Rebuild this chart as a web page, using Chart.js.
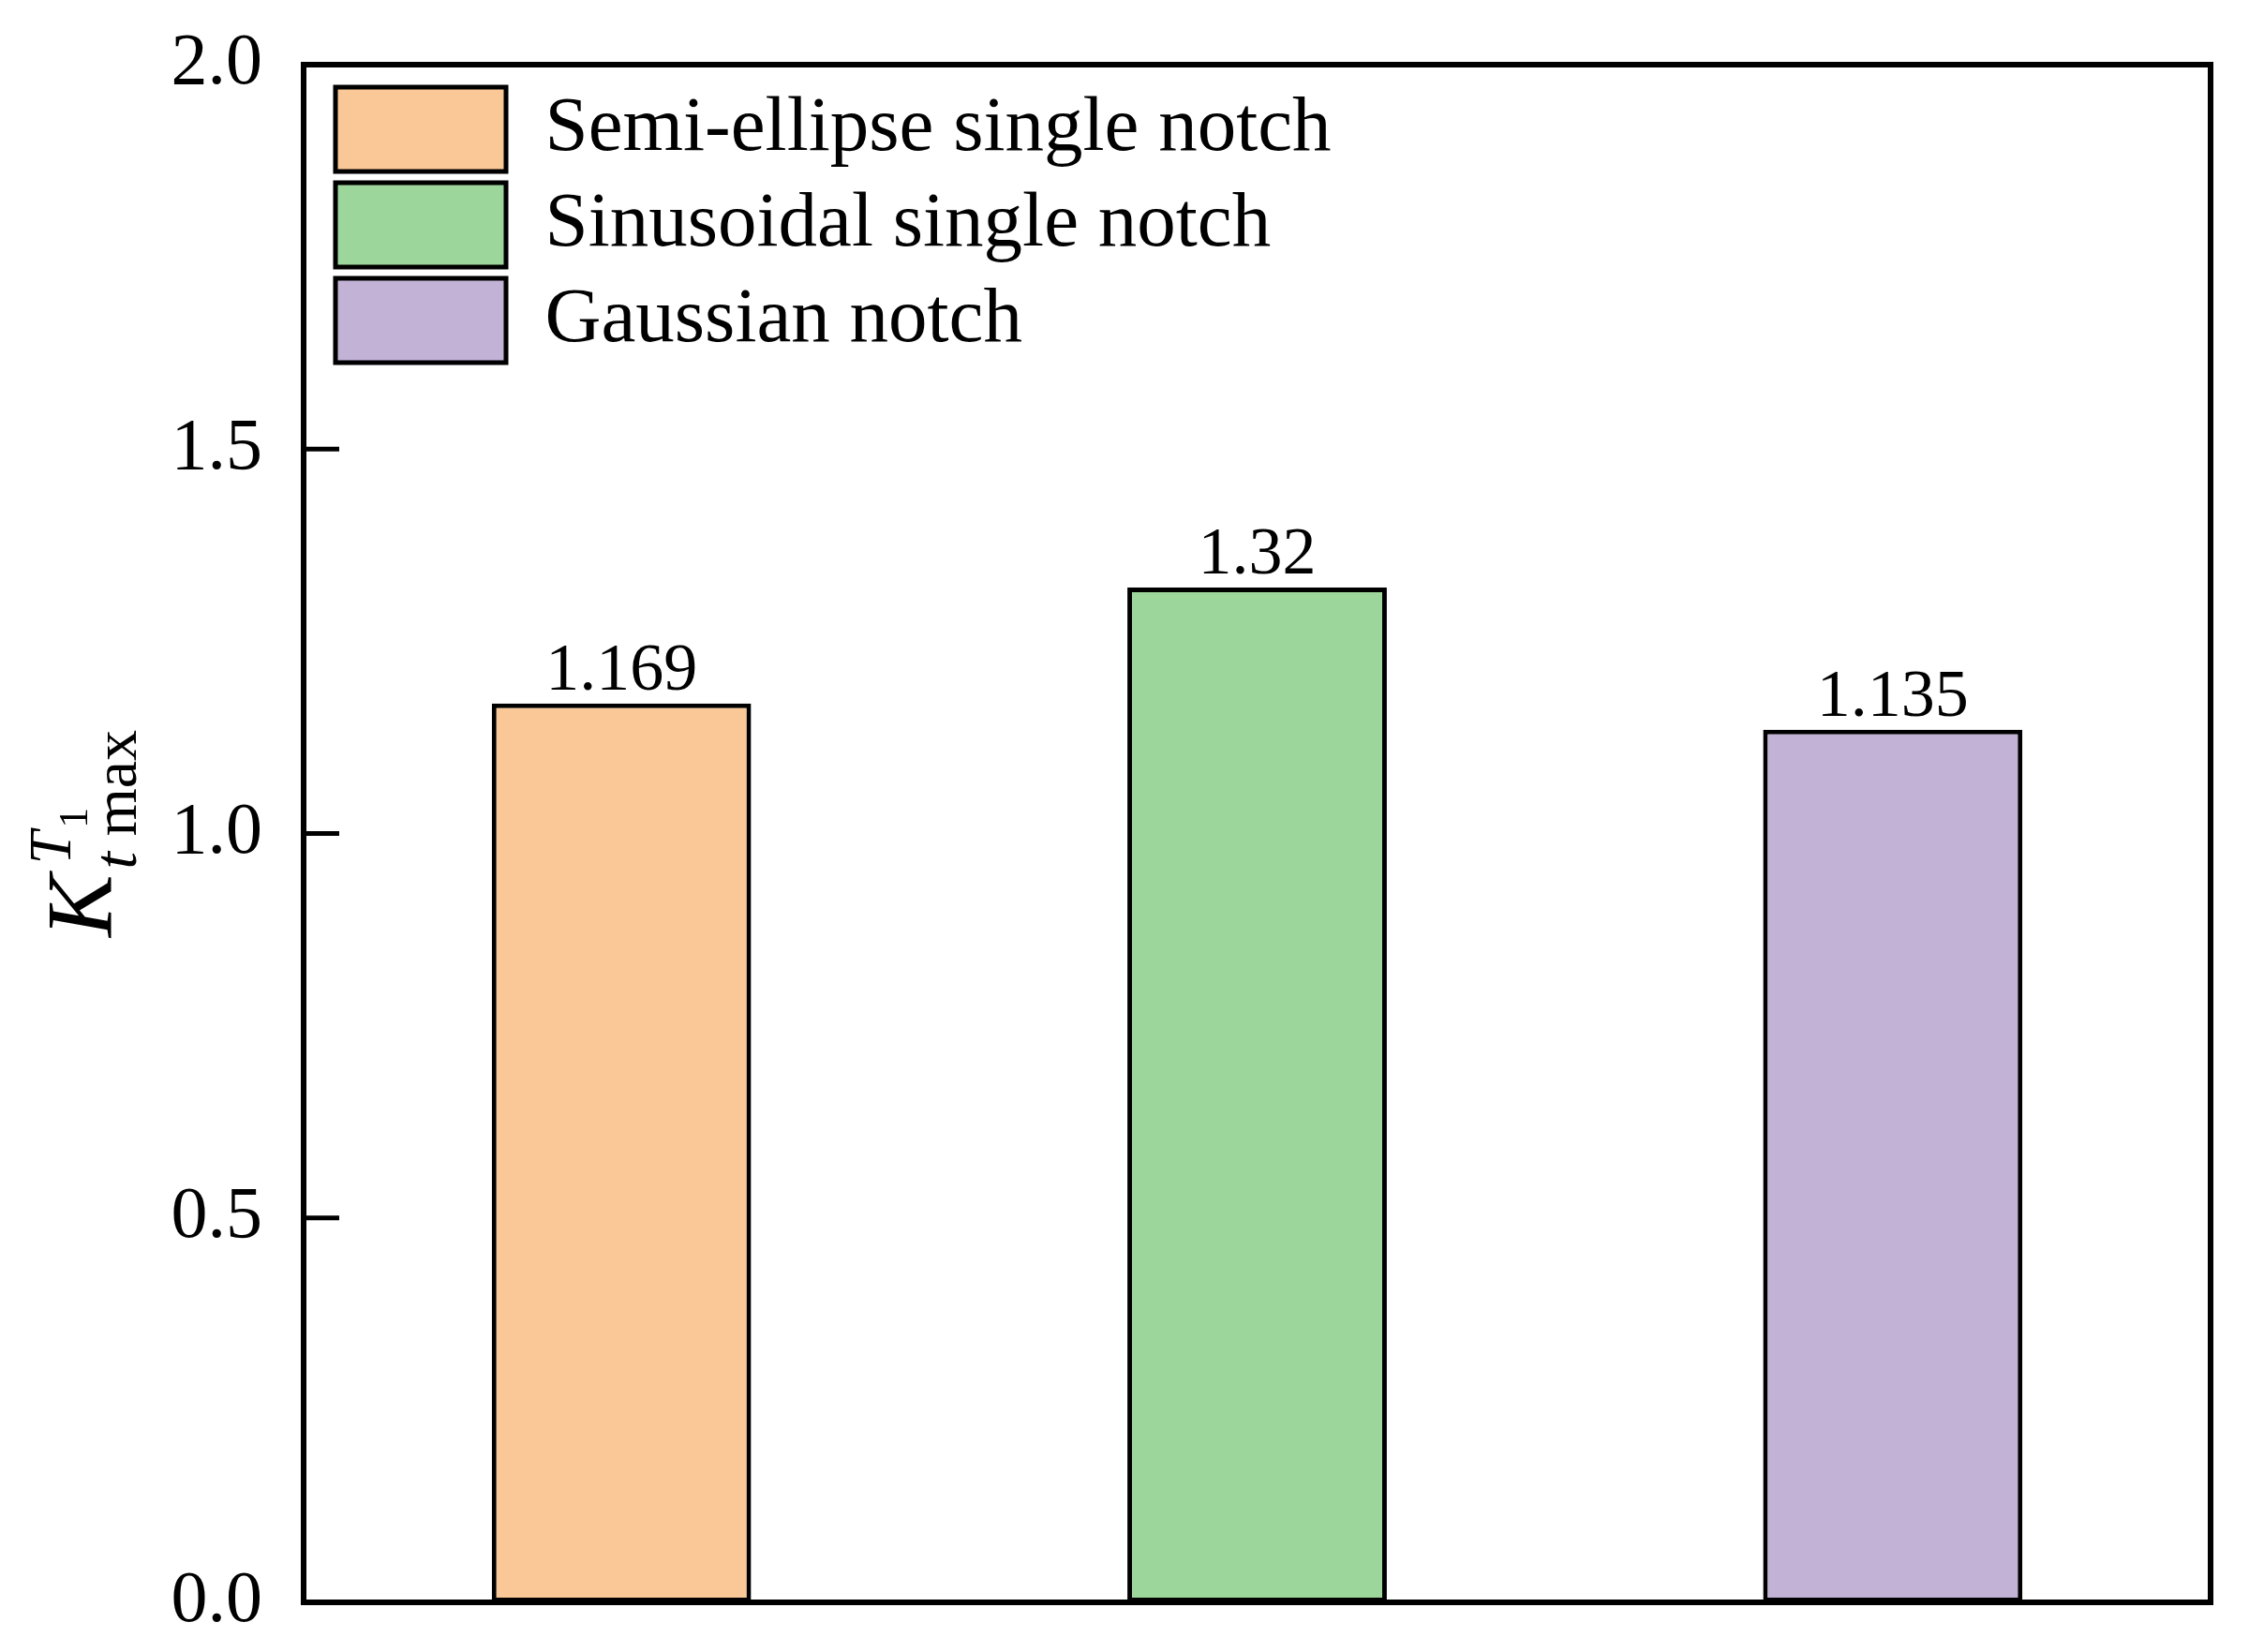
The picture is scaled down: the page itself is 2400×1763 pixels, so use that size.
<!DOCTYPE html>
<html>
<head>
<meta charset="utf-8">
<script src="https://cdn.jsdelivr.net/npm/chart.js@4/dist/chart.umd.min.js"></script>
<style>
html,body{margin:0;padding:0;background:#ffffff;}
#wrap{width:2400px;height:1763px;}
</style>
</head>
<body>
<div id="wrap"><canvas id="c" width="2400" height="1763"></canvas></div>
<script>
// ---- data ----
const categories = ['Semi-ellipse single notch', 'Sinusoidal single notch', 'Gaussian notch'];
const values = [1.169, 1.32, 1.135];
const valueLabels = ['1.169', '1.32', '1.135'];
const barColors = ['#FAC896', '#9DD69B', '#C2B2D6'];
const yTickValues = [0, 0.5, 1.0, 1.5, 2.0];
const yTickLabels = ['0.0', '0.5', '1.0', '1.5', '2.0'];

const SERIF = '"Liberation Serif", "Times New Roman", serif';

const datasets = categories.map((name, i) => ({
  label: name,
  data: categories.map((_, j) => (j === i ? values[i] : null)),
  backgroundColor: barColors[i],
  borderColor: '#000000',
  borderWidth: 5,
  borderSkipped: false,
  categoryPercentage: 0.8,
  barPercentage: 0.51
}));

const framePlugin = {
  id: 'frame',
  afterLayout(chart) {
    const lg = chart.legend;
    const a = chart.chartArea;
    if (lg) {
      const h = lg.bottom - lg.top;
      lg.top = a.top + 12;
      lg.bottom = lg.top + h;
      lg.left = a.left + 22;
      lg.right = a.right;
    }
  },
  afterDatasetsDraw(chart) {
    const ctx = chart.ctx;
    const a = chart.chartArea;
    const ys = chart.scales.y;
    ctx.save();
    // value labels
    ctx.fillStyle = '#000';
    ctx.font = '72px ' + SERIF;
    ctx.textAlign = 'center';
    ctx.textBaseline = 'alphabetic';
    chart.data.datasets.forEach((ds, i) => {
      const el = chart.getDatasetMeta(i).data[i];
      if (el) ctx.fillText(valueLabels[i], el.x, el.y - 15);
    });
    // inward tick marks on left axis
    ctx.strokeStyle = '#000';
    ctx.lineWidth = 5;
    ys.ticks.forEach(t => {
      const py = ys.getPixelForValue(t.value);
      ctx.beginPath();
      ctx.moveTo(a.left, py);
      ctx.lineTo(a.left + 38, py);
      ctx.stroke();
    });
    // frame
    ctx.lineWidth = 6;
    ctx.strokeRect(a.left, a.top, a.right - a.left, a.bottom - a.top);
    ctx.restore();
  },
  afterDraw(chart) {
    const ctx = chart.ctx;
    const a = chart.chartArea;
    const cy = (a.top + a.bottom) / 2;
    ctx.save();
    ctx.fillStyle = '#000';
    ctx.textBaseline = 'alphabetic';
    ctx.textAlign = 'left';
    ctx.font = 'italic 100px ' + SERIF;
    const kW = ctx.measureText('K').width;
    ctx.font = 'italic 64px ' + SERIF;
    const tW = ctx.measureText('T').width;
    ctx.font = '44px ' + SERIF;
    const oneW = ctx.measureText('1').width;
    ctx.font = 'italic 66px ' + SERIF;
    const tsW = ctx.measureText('t').width;
    ctx.font = '66px ' + SERIF;
    const maxW = ctx.measureText(' max').width;
    const supEnd = kW + 11 + tW + 3 + oneW;
    const subEnd = kW + 6 + tsW + maxW;
    const total = Math.max(supEnd, subEnd);
    ctx.translate(118, cy + total / 2);
    ctx.rotate(-Math.PI / 2);
    ctx.font = 'italic 100px ' + SERIF;
    ctx.fillText('K', 0, 0);
    ctx.font = 'italic 64px ' + SERIF;
    ctx.fillText('T', kW + 11, -43);
    ctx.font = '44px ' + SERIF;
    ctx.fillText('1', kW + 11 + tW + 3, -25);
    ctx.font = 'italic 66px ' + SERIF;
    ctx.fillText('t', kW + 6, 27);
    ctx.font = '66px ' + SERIF;
    ctx.fillText(' max', kW + 6 + tsW, 27);
    ctx.restore();
  }
};

new Chart(document.getElementById('c'), {
  type: 'bar',
  data: { labels: categories, datasets: datasets },
  plugins: [framePlugin],
  options: {
    responsive: false,
    maintainAspectRatio: false,
    animation: false,
    devicePixelRatio: 1,
    layout: { padding: { left: 0, top: 69, right: 41, bottom: 53 } },
    plugins: {
      tooltip: { enabled: false },
      title: { display: false },
      legend: {
        position: 'chartArea',
        align: 'start',
        labels: {
          boxWidth: 182,
          boxHeight: 90,
          padding: 12,
          color: '#000',
          font: { family: SERIF, size: 83 }
        }
      }
    },
    scales: {
      x: {
        stacked: true,
        display: false,
        grid: { display: false }
      },
      y: {
        stacked: true,
        min: 0,
        max: 2,
        afterBuildTicks: s => { s.ticks = yTickValues.map(v => ({ value: v })); },
        afterFit: s => { s.width = 324; s.paddingTop = 0; s.paddingBottom = 0; },
        grid: { display: false, drawTicks: false },
        border: { display: false },
        ticks: {
          color: '#000',
          padding: 44,
          font: { family: SERIF, size: 78 },
          callback: (v, i) => yTickLabels[i]
        }
      }
    }
  }
});
</script>
</body>
</html>
